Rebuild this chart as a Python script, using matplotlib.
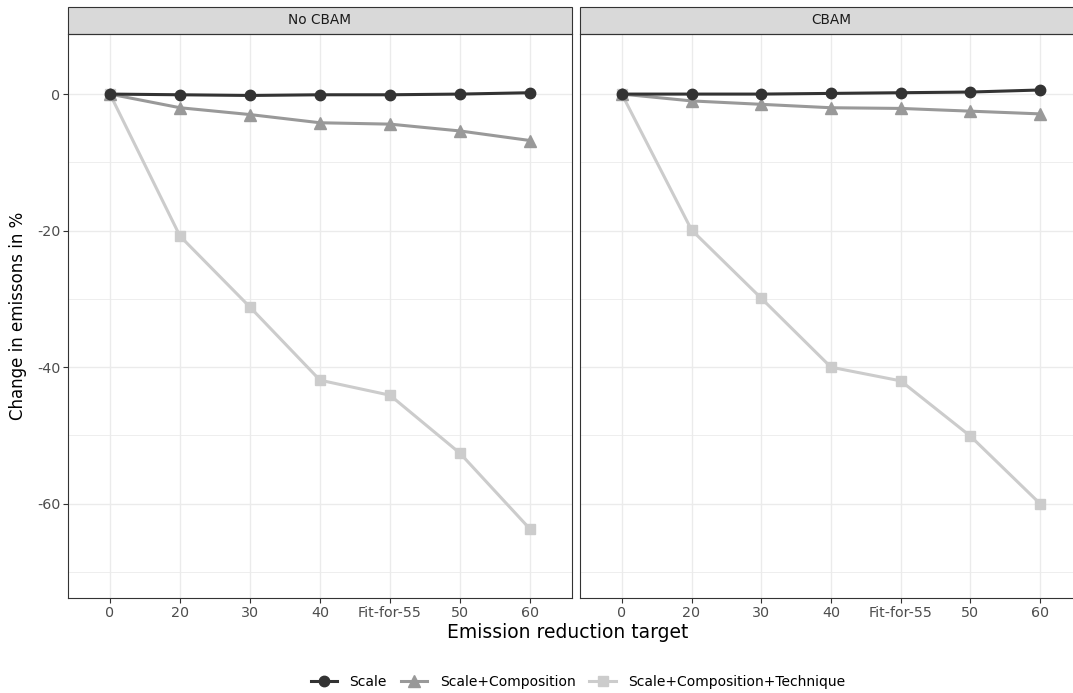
import matplotlib.pyplot as plt
from matplotlib.patches import Rectangle
from matplotlib.ticker import MultipleLocator

targets = ['0', '20', '30', '40', 'Fit-for-55', '50', '60']
panels = ['No CBAM', 'CBAM']
series = ['Scale', 'Scale+Composition', 'Scale+Composition+Technique']

no_cbam_scale = [0, -0.1, -0.2, -0.1, -0.1, 0.0, 0.2]
no_cbam_comp = [0, -2.0, -3.0, -4.2, -4.4, -5.4, -6.8]
no_cbam_tech = [0, -20.8, -31.2, -41.9, -44.1, -52.6, -63.7]

cbam_scale = [0, 0.0, 0.0, 0.1, 0.2, 0.3, 0.6]
cbam_comp = [0, -1.0, -1.5, -2.0, -2.1, -2.5, -2.9]
cbam_tech = [0, -19.9, -29.9, -40.0, -42.0, -50.1, -60.0]

data = {
    'No CBAM': [no_cbam_scale, no_cbam_comp, no_cbam_tech],
    'CBAM': [cbam_scale, cbam_comp, cbam_tech],
}

colors = ['#333333', '#999999', '#cccccc']
markers = ['o', '^', 's']
msizes = [7.5, 8.5, 7]

plt.rcParams['font.family'] = 'DejaVu Sans'
plt.rcParams['axes.unicode_minus'] = False

fig = plt.figure(figsize=(10.73, 6.93), dpi=100)
W, H = 1073, 693
bottom = 1 - 598 / H
height = 564 / H
width = 502 / W
ax1 = fig.add_axes([68 / W, bottom, 504 / W, height])
ax2 = fig.add_axes([580 / W, bottom, width, height])

x = list(range(len(targets)))
for ax, panel in zip([ax1, ax2], panels):
    vals = data[panel]
    for i in [2, 1, 0]:
        ax.plot(x, vals[i], color=colors[i], marker=markers[i], markersize=msizes[i],
                linewidth=2.2, label=series[i], zorder=3 + (2 - i))
    ax.set_xlim(-0.6, 6.6)
    ax.set_ylim(-73.8, 8.8)
    ax.set_xticks(x)
    ax.set_xticklabels(targets)
    ax.yaxis.set_major_locator(MultipleLocator(20))
    ax.yaxis.set_minor_locator(MultipleLocator(10))
    ax.grid(which='major', color='#ebebeb', linewidth=1.0)
    ax.grid(which='minor', axis='y', color='#ebebeb', linewidth=0.6)
    ax.set_axisbelow(True)
    ax.tick_params(axis='both', which='major', length=3.5, width=0.8, color='#333333',
                   labelcolor='#4d4d4d', labelsize=10.3, pad=2)
    ax.tick_params(axis='y', which='minor', length=0)
    for s in ax.spines.values():
        s.set_color('#333333')
        s.set_linewidth(0.8)
    # facet strip
    sh = 27 / 564
    ax.add_patch(Rectangle((0, 1), 1, sh, transform=ax.transAxes, facecolor='#d9d9d9',
                           edgecolor='#333333', linewidth=0.8, clip_on=False))
    ax.text(0.5, 1 + sh / 2, panel, transform=ax.transAxes, ha='center', va='center',
            fontsize=9.8, color='#1a1a1a')

ax2.tick_params(axis='y', labelleft=False, length=0)

fig.text(568 / W, 1 - 632 / H, 'Emission reduction target', ha='center', va='center',
         fontsize=13.5, color='black')
fig.text(18 / W, 1 - 316 / H, 'Change in emissons in %', ha='center', va='center',
         rotation=90, fontsize=12, color='black')

handles, labels = ax1.get_legend_handles_labels()
order = [2, 1, 0]
fig.legend([handles[k] for k in order], [labels[k] for k in order],
           loc='center', bbox_to_anchor=(578 / W, 1 - 682 / H), ncol=3, frameon=False,
           fontsize=10, handlelength=1.9, columnspacing=1.0, handletextpad=0.9)

fig.savefig('out.png', dpi=100)
